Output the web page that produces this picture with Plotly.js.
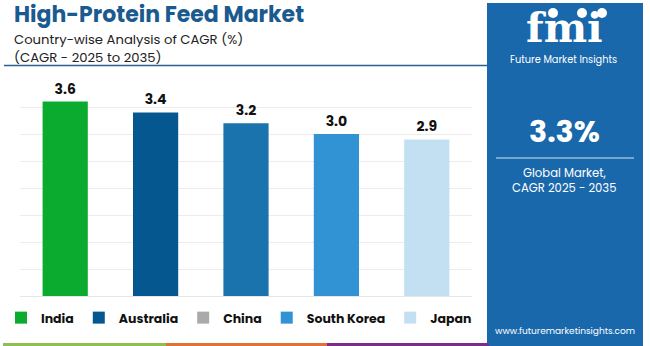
<!DOCTYPE html>
<html><head><meta charset="utf-8">
<script src="https://cdn.plot.ly/plotly-3.0.1.min.js"></script>
<style>html,body{margin:0;padding:0;background:#fff;}#chart{width:650px;height:346px;}</style>
</head><body><div id="chart"></div>
<script>
const countries = ["India", "Australia", "China", "South Korea", "Japan"];
const cagr = [3.6, 3.4, 3.2, 3.0, 2.9];
const barColors = ["#0aab2e", "#04588f", "#1a73ad", "#3193d4", "#c2e0f2"];
const legendColors = ["#0aab2e", "#04588f", "#aaaaaa", "#3193d4", "#c2e0f2"];
const titleText = "High-Protein Feed Market";
const subtitle1 = "Country-wise Analysis of CAGR (%)";
const subtitle2 = "(CAGR - 2025 to 2035)";
const globalCagr = "3.3%";
const globalLabel1 = "Global Market,";
const globalLabel2 = "CAGR 2025 - 2035";
const website = "www.futuremarketinsights.com";

const W = 650, H = 346, L = 20, R = 472, T = 80, B = 296;
const px = x => (x - L) / (R - L);
const py = y => (B - y) / (B - T);
const FONT = "Poppins, Inter, 'Open Sans', sans-serif";

const traces = [{
  type: "bar", x: countries, y: cagr, width: 0.5,
  marker: {color: barColors, line: {width: 0}},
  text: cagr.map(v => v.toFixed(1)), textposition: "outside",
  textfont: {family: FONT, size: 14, color: "#111", weight: "bold"},
  cliponaxis: false, showlegend: false, hoverinfo: "skip"
}];
countries.forEach((c, i) => traces.push({
  type: "bar", x: [null], y: [null], name: c,
  marker: {color: legendColors[i]}, showlegend: true
}));

const panel = "#1968ab";
const shapes = [
  {type: "line", xref: "paper", yref: "paper", x0: px(4), x1: px(487), y0: py(65.5), y1: py(65.5), line: {color: "#2a5f8f", width: 1.5}},
  {type: "rect", xref: "paper", yref: "paper", x0: px(487), x1: px(643), y0: py(3), y1: py(346), fillcolor: panel, line: {width: 0}},
  {type: "line", xref: "paper", yref: "paper", x0: px(496), x1: px(634), y0: py(158), y1: py(158), line: {color: "#cfe3f3", width: 1.2}},
  {type: "rect", xref: "paper", yref: "paper", x0: px(3), x1: px(166), y0: py(343), y1: py(346), fillcolor: "#8cc152", line: {width: 0}},
  {type: "rect", xref: "paper", yref: "paper", x0: px(166), x1: px(327), y0: py(343), y1: py(346), fillcolor: "#e2703a", line: {width: 0}},
  {type: "rect", xref: "paper", yref: "paper", x0: px(327), x1: px(489), y0: py(343), y1: py(346), fillcolor: "#7b2d8b", line: {width: 0}},
  {type: "circle", xref: "paper", yref: "paper", x0: px(548), x1: px(558), y0: py(8), y1: py(18), fillcolor: "#fff", line: {width: 0}},
  {type: "circle", xref: "paper", yref: "paper", x0: px(577), x1: px(587), y0: py(8), y1: py(18), fillcolor: "#fff", line: {width: 0}},
  {type: "circle", xref: "paper", yref: "paper", x0: px(597), x1: px(607), y0: py(8), y1: py(18), fillcolor: "#fff", line: {width: 0}},
];
for (let y = 22; y <= 47; y += 3.5) {
  shapes.push({type: "line", xref: "paper", yref: "paper", x0: px(508), x1: px(620), y0: py(y), y1: py(y), line: {color: panel, width: 0.8}, layer: "above"});
}

const annotations = [
  {text: "<b>" + titleText + "</b>", x: px(12), y: py(14.3), xanchor: "left", yanchor: "middle", font: {family: FONT, size: 22, color: "#1a5a8f"}},
  {text: subtitle1, x: px(12), y: py(39.2), xanchor: "left", yanchor: "middle", font: {family: FONT, size: 13.2, color: "#222"}},
  {text: subtitle2, x: px(12), y: py(57.2), xanchor: "left", yanchor: "middle", font: {family: FONT, size: 13.2, color: "#222"}},
  {text: "<b>fmi</b>", x: px(564), y: py(28), xanchor: "center", yanchor: "middle", font: {family: "'DejaVu Serif', serif", size: 41, color: "#fff"}},
  {text: "Future Market Insights", x: px(563), y: py(59.5), xanchor: "center", yanchor: "middle", font: {family: FONT, size: 9.8, color: "#fff"}},
  {text: "<b>" + globalCagr + "</b>", x: px(564), y: py(131), xanchor: "center", yanchor: "middle", font: {family: FONT, size: 30, color: "#fff"}},
  {text: globalLabel1, x: px(564), y: py(173), xanchor: "center", yanchor: "middle", font: {family: FONT, size: 11.6, color: "#fff"}},
  {text: globalLabel2, x: px(564), y: py(187.5), xanchor: "center", yanchor: "middle", font: {family: FONT, size: 11.6, color: "#fff"}},
  {text: website, x: px(565), y: py(331), xanchor: "center", yanchor: "middle", font: {family: FONT, size: 9, color: "#fff"}},
].map(a => Object.assign({xref: "paper", yref: "paper", showarrow: false}, a));

const layout = {
  width: W, height: H, margin: {l: L, r: W - R, t: T, b: H - B, pad: 0, autoexpand: false},
  paper_bgcolor: "#fff", plot_bgcolor: "#fff",
  barmode: "overlay", bargap: 0.5,
  xaxis: {showticklabels: false, showgrid: false, zeroline: false, ticks: "", fixedrange: true},
  yaxis: {range: [0, 4], dtick: 0.5, showticklabels: false, showgrid: true, gridcolor: "#ececec", gridwidth: 1, zeroline: true, zerolinecolor: "#e6e6e6", ticks: "", fixedrange: true},
  showlegend: true,
  legend: {orientation: "h", x: px(477), xanchor: "right", y: py(318), yanchor: "middle",
    font: {family: FONT, size: 12.5, color: "#111", weight: "bold"}, itemwidth: 30, traceorder: "normal", bgcolor: "rgba(0,0,0,0)"},
  shapes: shapes, annotations: annotations, font: {family: FONT}
};
Plotly.newPlot("chart", traces, layout, {staticPlot: true, displayModeBar: false});
</script></body></html>
